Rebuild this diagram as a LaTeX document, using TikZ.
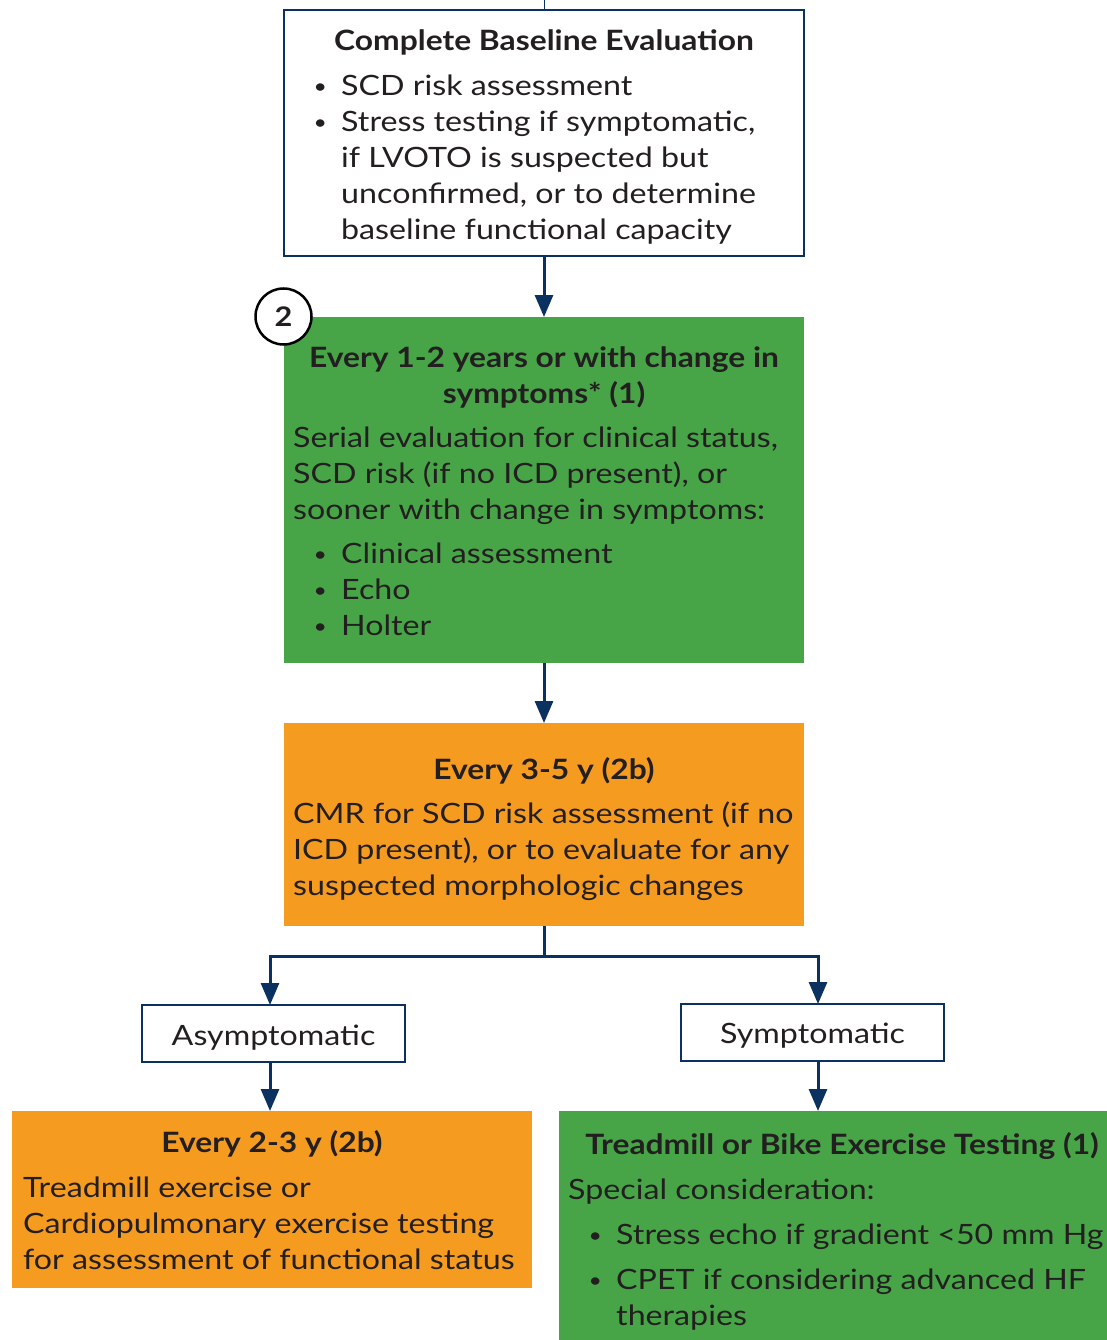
\documentclass[tikz,border=0pt]{standalone}
\usepackage{fontspec}
\setmainfont{Lato}[FakeStretch=1.15, BoldFeatures={FakeStretch=1.135}]
\usetikzlibrary{arrows.meta}
\definecolor{navy}{HTML}{0B3160}
\definecolor{hgreen}{HTML}{47A548}
\definecolor{horange}{HTML}{F59B1F}
\definecolor{ink}{HTML}{231F20}
\newcommand\fl{\rule{0pt}{22pt}}
\newcommand\bu{\makebox[28pt][l]{\hspace*{0.5pt}\raisebox{2pt}{\fontsize{20}{20}\selectfont\textbullet}}}
\newcommand\ind{\hspace*{28pt}}
\begin{document}
\begin{tikzpicture}[x=1pt,y=-1pt,
  wbox/.style={draw=navy, line width=2.5pt, fill=white, anchor=north west, inner sep=0, outer sep=0},
  gbox/.style={fill=hgreen, anchor=north west, inner sep=0, outer sep=0},
  obox/.style={fill=horange, anchor=north west, inner sep=0, outer sep=0},
  txt/.style={inner sep=0, anchor=north west, align=left, text=ink, font=\fontsize{28}{36}\selectfont},
  ttl/.style={inner sep=0, anchor=north, align=center, text=ink, font=\bfseries\fontsize{28}{36}\selectfont},
  conn/.style={draw=navy, line width=3pt},
  arr/.style={conn, -{Triangle[width=18pt,length=22pt]}}]
\useasboundingbox (0,0) rectangle (1107,1340);
% boxes
\node[wbox, minimum width=520pt, minimum height=246pt] (b1) at (284,10) {};
\node[gbox, minimum width=520pt, minimum height=346pt] (b2) at (284,317) {};
\node[obox, minimum width=520pt, minimum height=203pt] (b3) at (284,723) {};
\node[wbox, minimum width=263pt, minimum height=57pt] (asym) at (142,1005) {};
\node[wbox, minimum width=263pt, minimum height=57pt] (sym) at (681,1004) {};
\node[obox, minimum width=520pt, minimum height=177pt] (b6) at (12,1111) {};
\node[gbox, minimum width=560pt, minimum height=240pt] (b7) at (559,1111) {};
% box 1 text
\node[ttl] (t1) at (544,28) {\fl Complete Baseline Evaluation};
\node[txt] (t1b) at (313,73) {\fl\bu SCD risk assessment\\ \bu Stress testing if symptomatic,\\ \ind if LVOTO is suspected but\\ \ind unconfirmed, or to determine\\ \ind baseline functional capacity};
% box 2 text
\node[ttl] (t2) at (544,345) {\fl Every 1-2 years or with change in\\ symptoms* (1)};
\node[txt] (t2a) at (293,425) {\fl Serial evaluation for clinical status,\\ SCD risk (if no ICD present), or\\ sooner with change in symptoms:};
\node[txt] (t2b) at (313,541) {\fl\bu Clinical assessment\\ \bu Echo\\ \bu Holter};
% box 3 text
\node[ttl] (t3) at (544,757) {\fl Every 3-5 y (2b)};
\node[txt] (t3a) at (293,801) {\fl CMR for SCD risk assessment (if no\\ ICD present), or to evaluate for any\\ suspected morphologic changes};
% branch labels
\node[inner sep=0, anchor=base, text=ink, font=\fontsize{28}{36}\selectfont] (ta) at (273.5,1045) {Asymptomatic};
\node[inner sep=0, anchor=base, text=ink, font=\fontsize{28}{36}\selectfont] (ts) at (812.5,1043) {Symptomatic};
% box 6 text
\node[ttl] (t6) at (272,1130) {\fl Every 2-3 y (2b)};
\node[txt] (t6a) at (23,1175) {\fl Treadmill exercise or\\ Cardiopulmonary exercise testing\\ for assessment of functional status};
% box 7 text
\node[ttl] (t7) at (842,1132) {\fl Treadmill or Bike Exercise Testing (1)};
\node[txt] (t7a) at (568,1177) {\fl Special consideration:};
\node[txt] (t7b) at (588,1222) {\fl\bu Stress echo if gradient <50 mm Hg\\[9pt] \bu CPET if considering advanced HF\\ \ind therapies};
% circle badge
\node[circle, draw=black, fill=white, line width=2.5pt, minimum size=56pt, inner sep=0, text=ink, font=\bfseries\fontsize{27}{30}\selectfont] (c2) at (283.5,316.5) {2};
% connectors
\coordinate (top) at (544,0);
\draw[draw=navy, line width=1pt] (top) -- (b1.north);
\draw[arr] (b1.south) -- (b2.north);
\draw[arr] (b2.south) -- (b3.north);
\coordinate (split) at (544,956);
\draw[conn] (b3.south) -- (split);
\draw[arr] (split) -| ([xshift=-3.5pt]asym.north);
\draw[arr] (split) -| ([xshift=5.5pt]sym.north);
\draw[arr] ([xshift=-3.5pt]asym.south) -- ([xshift=-3.5pt]asym.south |- b6.north);
\draw[arr] ([xshift=5.5pt]sym.south) -- ([xshift=5.5pt]sym.south |- b7.north);
\end{tikzpicture}
\end{document}
